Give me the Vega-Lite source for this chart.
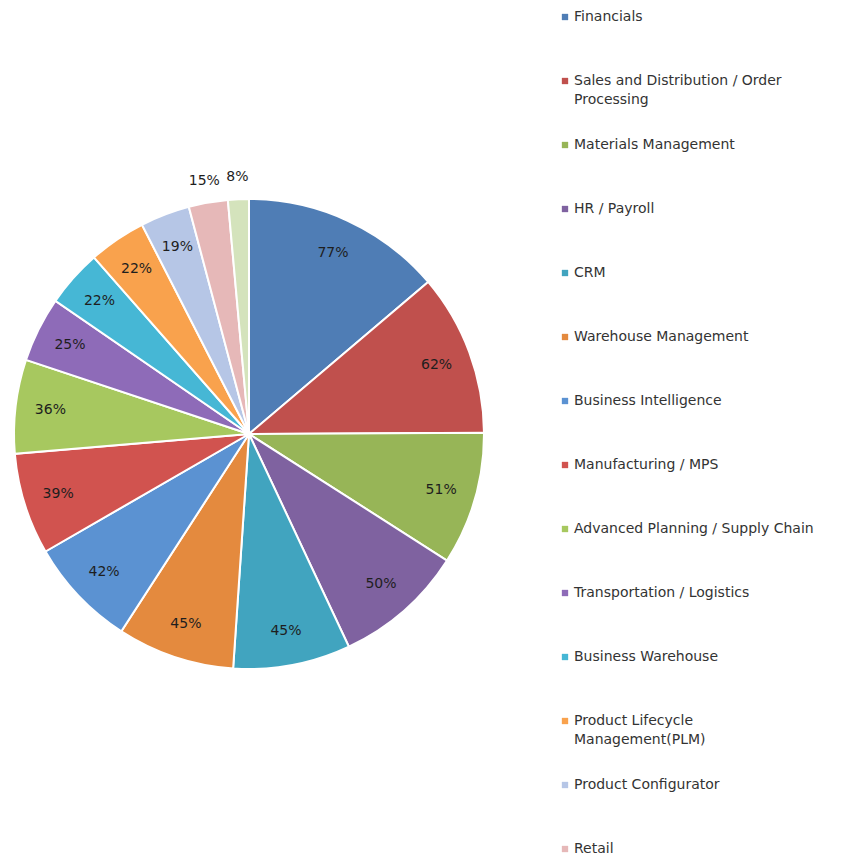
{
  "$schema": "https://vega.github.io/schema/vega-lite/v6.json",
  "width": 498,
  "height": 868,
  "autosize": {"type": "none"},
  "padding": {"left": 0, "top": 0, "right": 354, "bottom": 0},
  "background": "white",
  "config": {"view": {"stroke": null}, "font": "DejaVu Sans", "style": {"guide-label": {"lineHeight": 19}}},
  "data": {
    "values": [
      {"idx": 1, "name": "Financials", "value": 0.77},
      {"idx": 2, "name": "Sales and Distribution / Order Processing", "value": 0.62},
      {"idx": 3, "name": "Materials Management", "value": 0.51},
      {"idx": 4, "name": "HR / Payroll", "value": 0.50},
      {"idx": 5, "name": "CRM", "value": 0.45},
      {"idx": 6, "name": "Warehouse Management", "value": 0.45},
      {"idx": 7, "name": "Business Intelligence", "value": 0.42},
      {"idx": 8, "name": "Manufacturing / MPS", "value": 0.39},
      {"idx": 9, "name": "Advanced Planning / Supply Chain", "value": 0.36},
      {"idx": 10, "name": "Transportation / Logistics", "value": 0.25},
      {"idx": 11, "name": "Business Warehouse", "value": 0.22},
      {"idx": 12, "name": "Product Lifecycle Management(PLM)", "value": 0.22},
      {"idx": 13, "name": "Product Configurator", "value": 0.19},
      {"idx": 14, "name": "Retail", "value": 0.15},
      {"idx": 15, "name": "Others", "value": 0.08}
    ]
  },
  "encoding": {
    "theta": {"field": "value", "type": "quantitative", "stack": true},
    "order": {"field": "idx", "type": "quantitative"}
  },
  "layer": [
    {
      "mark": {"type": "arc", "outerRadius": 235, "stroke": "white", "strokeWidth": 2},
      "encoding": {
        "color": {
          "field": "name",
          "type": "nominal",
          "scale": {
            "domain": ["Financials", "Sales and Distribution / Order Processing", "Materials Management", "HR / Payroll", "CRM", "Warehouse Management", "Business Intelligence", "Manufacturing / MPS", "Advanced Planning / Supply Chain", "Transportation / Logistics", "Business Warehouse", "Product Lifecycle Management(PLM)", "Product Configurator", "Retail", "Others"],
            "range": ["#4F7DB5", "#C0504D", "#97B557", "#7F62A0", "#41A4BF", "#E48A3E", "#5B92D2", "#D1534F", "#A7C85F", "#8E6BB8", "#46B7D5", "#F9A24D", "#B6C6E6", "#E6B8B8", "#D4E3BC"]
          },
          "legend": {
            "title": null,
            "orient": "right",
            "offset": 50,
            "padding": 10,
            "symbolType": "square",
            "symbolSize": 40,
            "symbolStrokeWidth": 0,
            "labelFont": "DejaVu Sans",
            "labelFontSize": 14,
            "labelColor": "#333333",
            "labelLimit": 300,
            "labelOffset": 2,
            "rowPadding": 31,
            "gridAlign": "all",
            "labelExpr": "datum.label == 'Sales and Distribution / Order Processing' ? ['Sales and Distribution / Order', 'Processing'] : datum.label == 'Product Lifecycle Management(PLM)' ? ['Product Lifecycle', 'Management(PLM)'] : datum.label"
          }
        }
      }
    },
    {
      "mark": {"type": "text", "radius": 200, "fontSize": 14, "color": "#1e1e1e"},
      "encoding": {
        "detail": {"field": "name", "type": "nominal"},
        "text": {
          "condition": {"test": "datum.value < 0.18", "value": ""},
          "field": "value",
          "type": "quantitative",
          "format": ".0%"
        }
      }
    },
    {
      "mark": {"type": "text", "radius": 257, "fontSize": 14, "color": "#1e1e1e"},
      "encoding": {
        "detail": {"field": "name", "type": "nominal"},
        "text": {
          "condition": {"test": "datum.value >= 0.18", "value": ""},
          "field": "value",
          "type": "quantitative",
          "format": ".0%"
        }
      }
    }
  ]
}
